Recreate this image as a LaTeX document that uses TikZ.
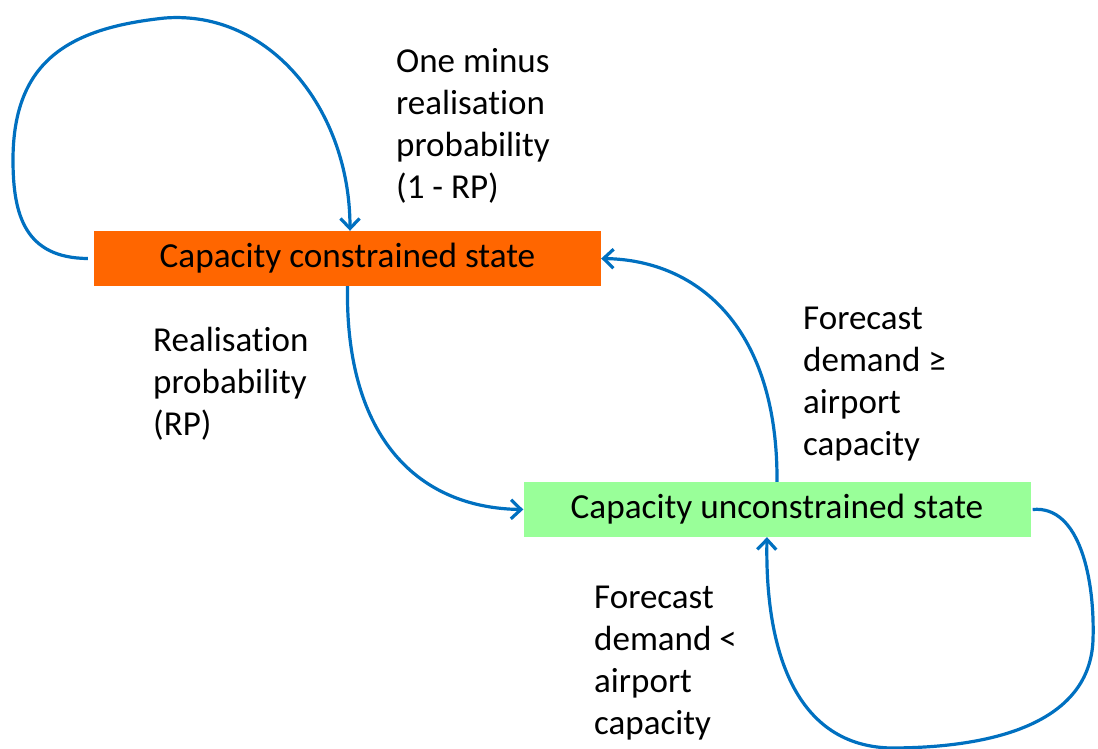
\documentclass[tikz,border=0pt]{standalone}
\usepackage{fontspec}
\setmainfont{Carlito}[Ligatures=NoCommon]
\usetikzlibrary{arrows.meta, positioning}
\definecolor{stateorange}{HTML}{FF6600}
\definecolor{stategreen}{HTML}{99FF99}
\definecolor{flowblue}{HTML}{0070C0}
\tikzset{
    state/.style={minimum width=507pt, minimum height=55pt, inner sep=0pt, font=\fontsize{35.2}{42}\selectfont},
    flow/.style={-{Straight Barb[length=10pt, width=19pt]}, draw=flowblue, line width=3.2pt},
    note/.style={align=left, anchor=base west, inner sep=0pt, font=\fontsize{35}{42}\selectfont}
}

\begin{document}
\begin{tikzpicture}[x=1pt, y=-1pt]
    \useasboundingbox (0,0) rectangle (1098,749);
    \node[state, fill=stateorange] (cc) at (347.5,258.5) {\raisebox{-7pt}{Capacity constrained state}};
    \node[state, fill=stategreen] (cu) at (777,509.5) {\raisebox{-7pt}{Capacity unconstrained state}};
    % anchor base = last line
    \node[note] (stay) at (396,198) {One minus\\realisation\\probability\\(1 - RP)};
    \node[note] (real) at (153,435) {Realisation\\probability\\(RP)};
    \node[note] (ge) at (803,455) {Forecast\\demand ≥\\airport\\capacity};
    \node[note] (lt) at (594,734) {Forecast\\demand <\\airport\\capacity};
    \draw[flow] ([xshift=-6pt]cc.west) .. controls (25,258) and (13,215) .. (13,160)
        .. controls (13,60) and (70,28) .. (165,18) .. controls (270,10) and (350,110) .. ([xshift=2.5pt]cc.north);
    \draw[flow] (cc.south) .. controls (345,440) and (420,508) .. (cu.west);
    \draw[flow] (cu.north) .. controls (778,330) and (700,260) .. (cc.east);
    \draw[flow] ([xshift=2pt]cu.east) .. controls (1080,505) and (1095,580) .. (1093,640)
        .. controls (1090,720) and (1000,748) .. (890,748) .. controls (790,745) and (765,640) .. ([xshift=-10pt]cu.south);
\end{tikzpicture}
\end{document}
